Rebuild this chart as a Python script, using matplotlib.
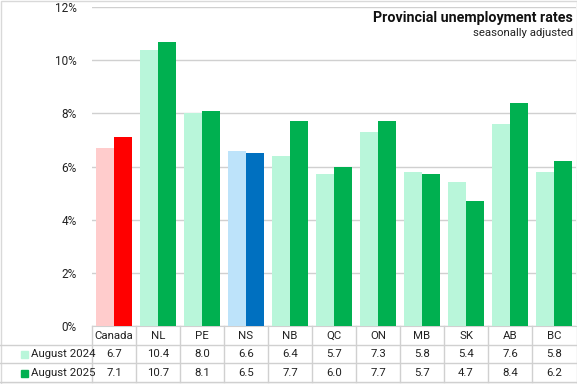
import matplotlib
matplotlib.use("Agg")
import matplotlib.pyplot as plt
from matplotlib.patches import Rectangle
import numpy as np

categories = ["Canada", "NL", "PE", "NS", "NB", "QC", "ON", "MB", "SK", "AB", "BC"]
aug2024 = [6.7, 10.4, 8.0, 6.6, 6.4, 5.7, 7.3, 5.8, 5.4, 7.6, 5.8]
aug2025 = [7.1, 10.7, 8.1, 6.5, 7.7, 6.0, 7.7, 5.7, 4.7, 8.4, 6.2]
series_labels = ["August 2024", "August 2025"]
yticks = [0, 2, 4, 6, 8, 10, 12]

W, H = 577, 384
plt.rcParams['font.family'] = ['Roboto', 'DejaVu Sans']
fig = plt.figure(figsize=(W / 100, H / 100), dpi=100)

x0, x1 = 92, 576
ytop, ybot = 7, 326
ax = fig.add_axes([x0 / W, 1 - ybot / H, (x1 - x0) / W, (ybot - ytop) / H])

n = len(categories)
x = np.arange(n)
bw = 0.42
c24 = ["#B9F6DA"] * n
c25 = ["#00B050"] * n
c24[0], c25[0] = "#FFCCCC", "#FF0000"
c24[3], c25[3] = "#BDE3FA", "#0070C0"

ax.bar(x - bw / 2, aug2024, bw, color=c24, zorder=3)
ax.bar(x + bw / 2, aug2025, bw, color=c25, zorder=3)
ax.set_xlim(-0.5, n - 0.5)
ax.set_ylim(0, 12)
ax.set_yticks(yticks)
ax.set_yticklabels([f"{t}%" for t in yticks], fontsize=8.5, color="#222222")
ax.yaxis.grid(True, color="#D0D0D0", linewidth=1, zorder=0)
ax.tick_params(axis='y', length=0, pad=11)
ax.tick_params(axis='x', length=0, labelbottom=False)
for s in ["top", "right", "left"]:
    ax.spines[s].set_visible(False)
ax.spines["bottom"].set_color("#D0D0D0")

# title
fig.text(573 / W, 1 - 18 / H, "Provincial unemployment rates", ha="right", va="center",
         fontsize=10.3, fontweight="bold", color="#111111")
fig.text(573 / W, 1 - 33 / H, "seasonally adjusted", ha="right", va="center",
         fontsize=8.2, color="#222222")

# data table
line_c = "#D0D0D0"
colw = (x1 - x0) / n
for ypix in [345, 363, 382]:
    fig.add_artist(plt.Line2D([0, x1 / W], [1 - ypix / H] * 2, color=line_c, lw=1))
for i in range(n):
    xp = x0 + i * colw
    fig.add_artist(plt.Line2D([xp / W] * 2, [1 - 326 / H, 1 - 382 / H], color=line_c, lw=1))
rows_y = [336, 354, 373]
fs = 8.2
for i, cat in enumerate(categories):
    xc = x0 + (i + 0.5) * colw
    fig.text(xc / W, 1 - rows_y[0] / H, cat, ha="center", va="center", fontsize=fs, color="#222222")
    fig.text(xc / W, 1 - rows_y[1] / H, f"{aug2024[i]:.1f}", ha="center", va="center", fontsize=fs, color="#222222")
    fig.text(xc / W, 1 - rows_y[2] / H, f"{aug2025[i]:.1f}", ha="center", va="center", fontsize=fs, color="#222222")
for lab, col, yp in zip(series_labels, ["#B9F6DA", "#00B050"], rows_y[1:]):
    fig.add_artist(Rectangle((21 / W, 1 - (yp + 3.5) / H), 7 / W, 7 / H, color=col, transform=fig.transFigure))
    fig.text(31 / W, 1 - yp / H, lab, ha="left", va="center", fontsize=fs, color="#222222")

# outer border
fig.add_artist(Rectangle((0.5 / W, 0.5 / H), (W - 1) / W, (H - 1) / H, fill=False,
                         edgecolor="#D9D9D9", lw=1, transform=fig.transFigure))

fig.savefig("out.png", dpi=100)
